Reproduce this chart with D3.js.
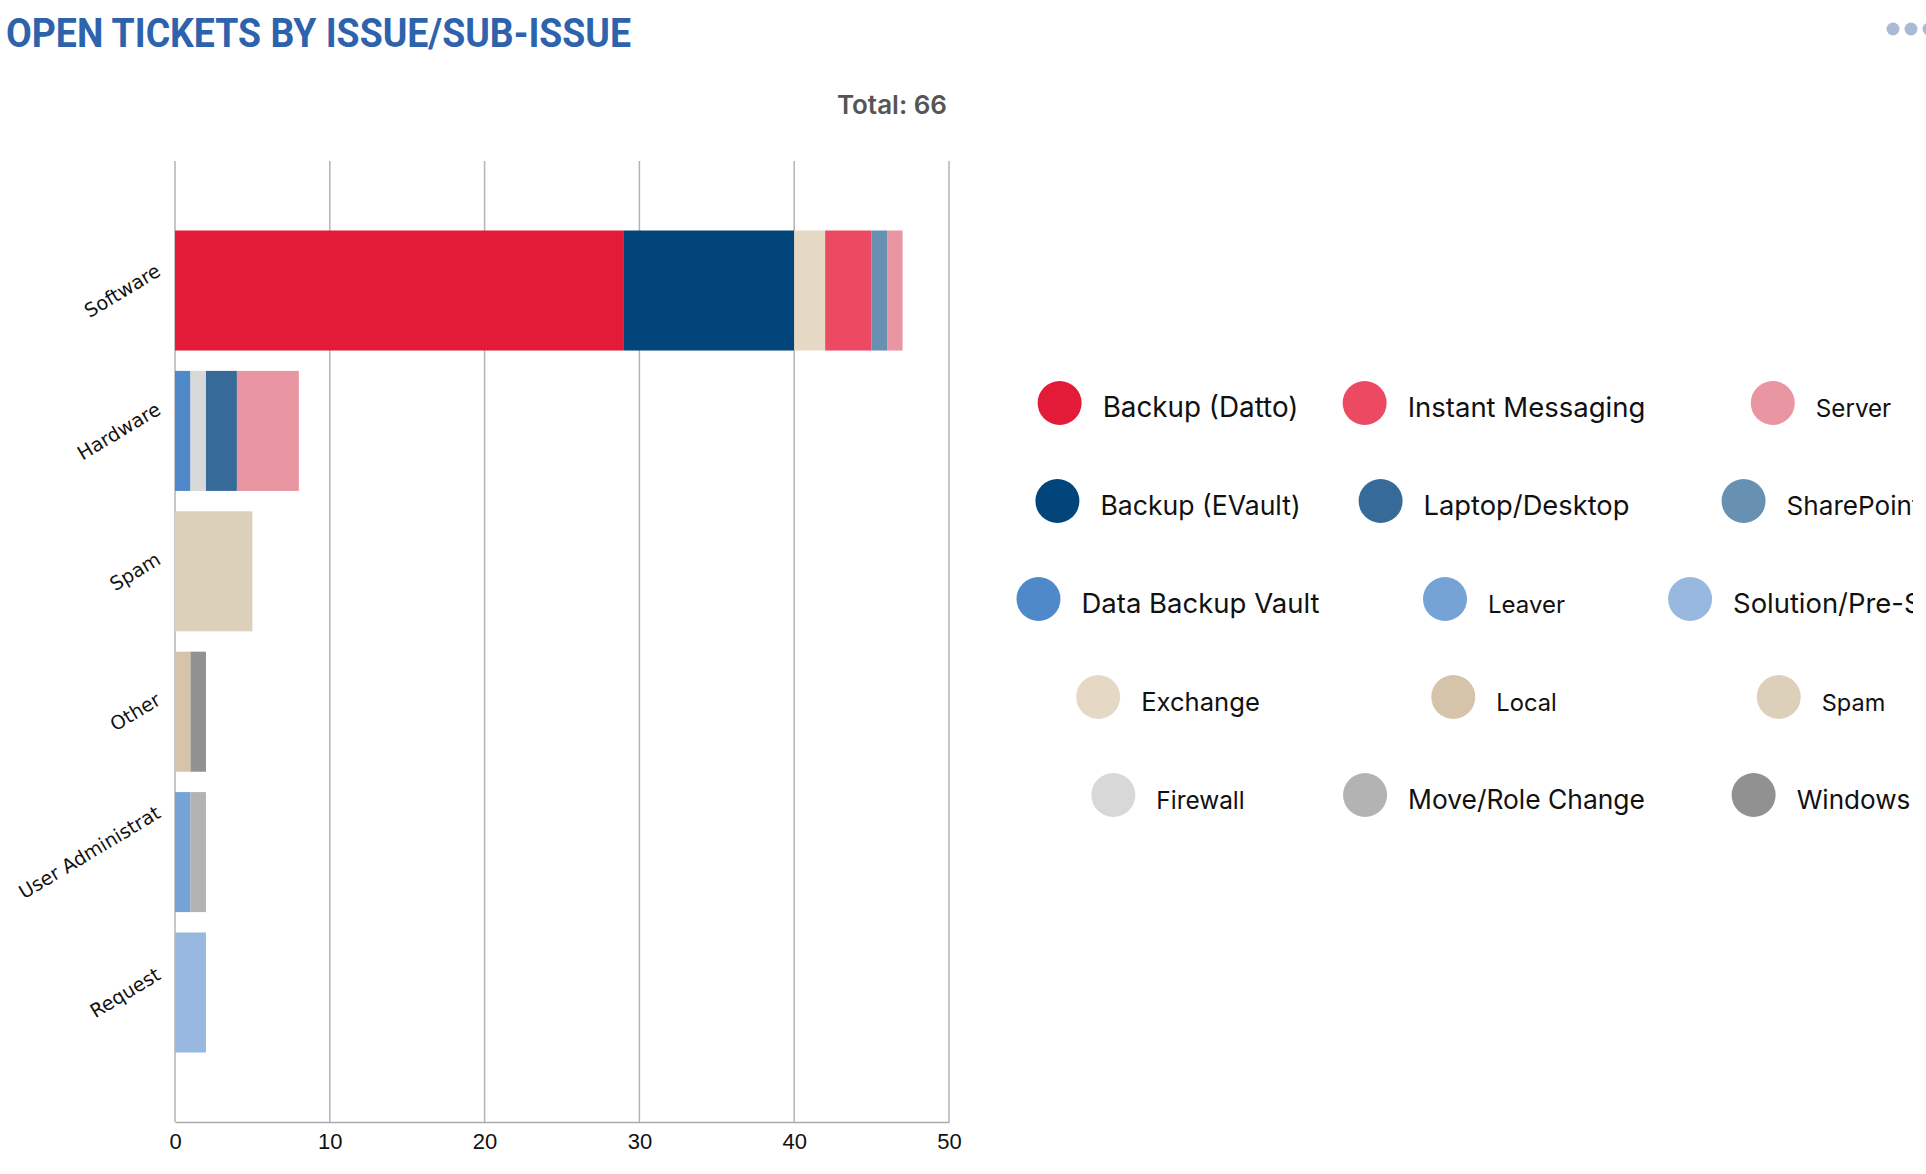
<!DOCTYPE html>
<html><head><meta charset="utf-8">
<script src="https://cdn.jsdelivr.net/npm/d3@7"></script>
<style>body{margin:0;background:#fff}svg{display:block}</style>
</head><body>
<svg id="c" width="1926" height="1174"></svg>
<script>
// ---------- DATA ----------
const categories = ["Software", "Hardware", "Spam", "Other", "User Administrat", "Request"];
// stack order (bottom to top), values per category
const seriesNames = ["Backup (Datto)", "Backup (EVault)", "Data Backup Vault", "Exchange", "Firewall",
  "Instant Messaging", "Laptop/Desktop", "Leaver", "Local", "Move/Role Change",
  "SharePoint", "Server", "Solution/Pre-Sales", "Spam", "Windows"];
const backupDatto      = [29, 0, 0, 0, 0, 0];
const backupEVault     = [11, 0, 0, 0, 0, 0];
const dataBackupVault  = [0, 1, 0, 0, 0, 0];
const exchange         = [2, 0, 0, 0, 0, 0];
const firewall         = [0, 1, 0, 0, 0, 0];
const instantMessaging = [3, 0, 0, 0, 0, 0];
const laptopDesktop    = [0, 2, 0, 0, 0, 0];
const leaver           = [0, 0, 0, 0, 1, 0];
const local            = [0, 0, 0, 1, 0, 0];
const moveRoleChange   = [0, 0, 0, 0, 1, 0];
const sharePoint       = [1, 0, 0, 0, 0, 0];
const server           = [1, 4, 0, 0, 0, 0];
const solutionPreSales = [0, 0, 0, 0, 0, 2];
const spam             = [0, 0, 5, 0, 0, 0];
const windows          = [0, 0, 0, 1, 0, 0];
const seriesValues = [backupDatto, backupEVault, dataBackupVault, exchange, firewall,
  instantMessaging, laptopDesktop, leaver, local, moveRoleChange,
  sharePoint, server, solutionPreSales, spam, windows];
// legend order (column-major, alphabetical)
const legendOrder = ["Backup (Datto)", "Backup (EVault)", "Data Backup Vault", "Exchange", "Firewall",
  "Instant Messaging", "Laptop/Desktop", "Leaver", "Local", "Move/Role Change",
  "Server", "SharePoint", "Solution/Pre-Sales", "Spam", "Windows"];
const xTicks = [0, 10, 20, 30, 40, 50];
const titleText = "OPEN TICKETS BY ISSUE/SUB-ISSUE";

// ---------- STYLE ----------
const colors = {
  "Backup (Datto)": "#e31b38", "Instant Messaging": "#ec4a63", "Server": "#e995a2",
  "Backup (EVault)": "#02457a", "Laptop/Desktop": "#356a99", "SharePoint": "#6890b0",
  "Data Backup Vault": "#4f89c9", "Leaver": "#75a3d6", "Solution/Pre-Sales": "#98b8e0",
  "Exchange": "#e5d9c5", "Local": "#d5c4aa", "Spam": "#ddd0ba",
  "Firewall": "#d8d8d8", "Move/Role Change": "#b3b3b3", "Windows": "#919191"
};
const legendFont = {
  "Backup (Datto)": 27.8, "Instant Messaging": 27.5, "Server": 24.2,
  "Backup (EVault)": 26.6, "Laptop/Desktop": 27.3, "SharePoint": 26.1,
  "Data Backup Vault": 27.5, "Leaver": 24, "Solution/Pre-Sales": 27.4,
  "Exchange": 25.6, "Local": 23.7, "Spam": 23.5,
  "Firewall": 24.4, "Move/Role Change": 26.4, "Windows": 26.1
};

const svg = d3.select("#c");
const plot = {left: 175, right: 949, top: 161, bottom: 1122};

// Title
svg.append("text").attr("x", 6).attr("y", 47)
  .attr("font-family", "Roboto").attr("font-weight", 700).attr("font-size", 40)
  .attr("fill", "#2d62ad").attr("textLength", 625).attr("lengthAdjust", "spacingAndGlyphs")
  .text(titleText);

// menu dots
svg.append("g").selectAll("circle").data([0, 1, 2]).join("circle")
  .attr("cx", d => 1893 + d * 18).attr("cy", 29).attr("r", 6.5).attr("fill", "#a9b9d6");

// Total
const total = d3.sum(seriesValues.flat());
svg.append("text").attr("x", 947).attr("y", 114).attr("text-anchor", "end")
  .attr("font-family", "Inter").attr("font-weight", 600).attr("font-size", 26)
  .attr("fill", "#555").text("Total: " + total);

const x = d3.scaleLinear().domain([0, 50]).range([plot.left, plot.right]);
const y = d3.scaleBand().domain(categories).range([plot.top, plot.bottom])
  .paddingInner(0.145).paddingOuter(0.495);

// grid
svg.append("g").selectAll("line").data(xTicks).join("line")
  .attr("x1", d => x(d)).attr("x2", d => x(d))
  .attr("y1", plot.top).attr("y2", plot.bottom)
  .attr("stroke", "#b4b4b4").attr("stroke-width", 1.5);

// x axis
const xAxis = svg.append("g").attr("transform", `translate(0,${plot.bottom})`)
  .call(d3.axisBottom(x).tickValues(xTicks).tickSize(0).tickPadding(11).tickFormat(d3.format("d")));
xAxis.select(".domain").attr("stroke", "#aaa").attr("stroke-width", 1.5);
xAxis.selectAll("text").attr("font-family", "Liberation Sans").attr("font-size", 22).attr("fill", "#111");

// stacked data
const rows = categories.map((c, i) => {
  const r = {category: c};
  seriesNames.forEach((s, j) => r[s] = seriesValues[j][i]);
  return r;
});
const stacked = d3.stack().keys(seriesNames)(rows);

svg.append("g").selectAll("g").data(stacked).join("g")
  .attr("fill", d => colors[d.key])
  .selectAll("rect").data(d => d.filter(p => p[1] - p[0] > 0)).join("rect")
  .attr("x", d => x(d[0])).attr("width", d => x(d[1]) - x(d[0]))
  .attr("y", d => y(d.data.category)).attr("height", y.bandwidth());

// y labels rotated
const ang = 31, rad = ang * Math.PI / 180;
const yl = svg.append("g");
categories.forEach(c => {
  const t = yl.append("text").attr("text-anchor", "end")
    .attr("font-family", "DejaVu Sans").attr("font-size", 19.2).attr("fill", "#111").text(c);
  const L = t.node().getComputedTextLength();
  const cy = y(c) + y.bandwidth() / 2;
  t.attr("transform", `translate(162,${cy - L / 2 * Math.sin(rad) + 6}) rotate(${-ang})`);
});

// legend
svg.append("defs").append("clipPath").attr("id", "lc")
  .append("rect").attr("x", 990).attr("y", 300).attr("width", 923).attr("height", 560);
const lg = svg.append("g").attr("clip-path", "url(#lc)");
const colCenters = [1168, 1494, 1821];
const rowY0 = 403, rowStep = 98, r = 22, gap = 21;
legendOrder.forEach((name, i) => {
  const col = Math.floor(i / 5), row = i % 5;
  const cy = rowY0 + row * rowStep;
  const g = lg.append("g");
  g.append("circle").attr("cx", r).attr("cy", cy).attr("r", r).attr("fill", colors[name]);
  const t = g.append("text").attr("x", 2 * r + gap).attr("y", cy + 14)
    .attr("font-family", "Inter").attr("font-size", legendFont[name]).attr("fill", "#111").text(name);
  const w = t.node().getComputedTextLength();
  g.attr("transform", `translate(${colCenters[col] - (2 * r + gap + w) / 2},0)`);
});
</script>
</body></html>
